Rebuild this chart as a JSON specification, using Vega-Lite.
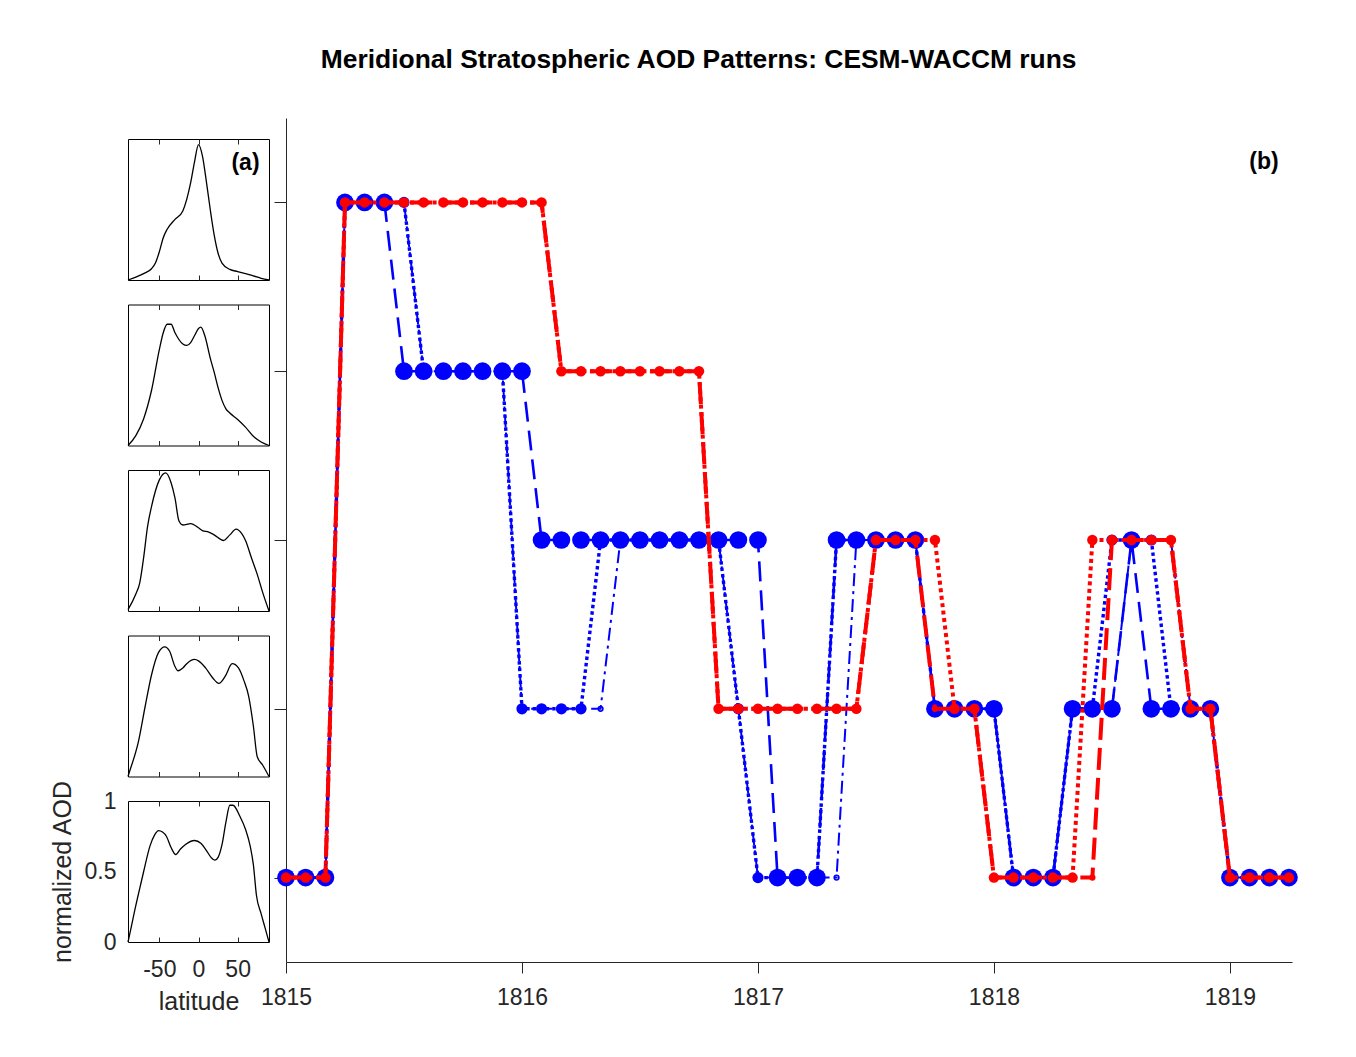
{
  "$schema": "https://vega.github.io/schema/vega-lite/v6.json",
  "background": "white",
  "padding": {"left": 49, "top": 46, "right": 10, "bottom": 10},
  "title": {"text": "Meridional Stratospheric AOD Patterns: CESM-WACCM runs", "font": "Liberation Sans", "fontSize": 26.4, "fontWeight": "bold", "color": "black", "anchor": "middle", "dx": 25, "offset": 45},
  "config": {
    "view": {"stroke": null},
    "font": "Liberation Sans",
    "axis": {"labelFont": "Liberation Sans", "labelFontSize": 23, "labelColor": "#262626", "titleFont": "Liberation Sans", "titleFontSize": 25, "titleFontWeight": "normal", "titleColor": "#262626", "domainColor": "#262626", "tickColor": "#262626", "grid": false, "domainWidth": 1, "tickWidth": 1}
  },
  "datasets": {
    "main": [
      {"t": 1815.000, "B1": 1, "B2": 1, "B3": 1, "R2": 1, "R3": 1},
      {"t": 1815.083, "B1": 1, "B2": 1, "B3": 1, "R2": 1, "R3": 1},
      {"t": 1815.167, "B1": 1, "B2": 1, "B3": 1, "R2": 1, "R3": 1},
      {"t": 1815.250, "B1": 5, "B2": 5, "B3": 5, "R2": 5, "R3": 5},
      {"t": 1815.333, "B1": 5, "B2": 5, "B3": 5, "R2": 5, "R3": 5},
      {"t": 1815.417, "B1": 5, "B2": 5, "B3": 5, "R2": 5, "R3": 5},
      {"t": 1815.500, "B1": 4, "B2": 5, "B3": 5, "R2": 5, "R3": 5},
      {"t": 1815.583, "B1": 4, "B2": 4, "B3": 4, "R2": 5, "R3": 5},
      {"t": 1815.667, "B1": 4, "B2": 4, "B3": 4, "R2": 5, "R3": 5},
      {"t": 1815.750, "B1": 4, "B2": 4, "B3": 4, "R2": 5, "R3": 5},
      {"t": 1815.833, "B1": 4, "B2": 4, "B3": 4, "R2": 5, "R3": 5},
      {"t": 1815.917, "B1": 4, "B2": 4, "B3": 4, "R2": 5, "R3": 5},
      {"t": 1816.000, "B1": 4, "B2": 2, "B3": 2, "R2": 5, "R3": 5},
      {"t": 1816.083, "B1": 3, "B2": 2, "B3": 2, "R2": 5, "R3": 5},
      {"t": 1816.167, "B1": 3, "B2": 2, "B3": 2, "R2": 4, "R3": 4},
      {"t": 1816.250, "B1": 3, "B2": 2, "B3": 2, "R2": 4, "R3": 4},
      {"t": 1816.333, "B1": 3, "B2": 3, "B3": 2, "R2": 4, "R3": 4},
      {"t": 1816.417, "B1": 3, "B2": 3, "B3": 3, "R2": 4, "R3": 4},
      {"t": 1816.500, "B1": 3, "B2": 3, "B3": 3, "R2": 4, "R3": 4},
      {"t": 1816.583, "B1": 3, "B2": 3, "B3": 3, "R2": 4, "R3": 4},
      {"t": 1816.667, "B1": 3, "B2": 3, "B3": 3, "R2": 4, "R3": 4},
      {"t": 1816.750, "B1": 3, "B2": 3, "B3": 3, "R2": 4, "R3": 4},
      {"t": 1816.833, "B1": 3, "B2": 3, "B3": 3, "R2": 2, "R3": 2},
      {"t": 1816.917, "B1": 3, "B2": 2, "B3": 2, "R2": 2, "R3": 2},
      {"t": 1817.000, "B1": 3, "B2": 1, "B3": 1, "R2": 2, "R3": 2},
      {"t": 1817.083, "B1": 1, "B2": 1, "B3": 1, "R2": 2, "R3": 2},
      {"t": 1817.167, "B1": 1, "B2": 1, "B3": 1, "R2": 2, "R3": 2},
      {"t": 1817.250, "B1": 1, "B2": 1, "B3": 1, "R2": 2, "R3": 2},
      {"t": 1817.333, "B1": 3, "B2": 3, "B3": 1, "R2": 2, "R3": 2},
      {"t": 1817.417, "B1": 3, "B2": 3, "B3": 3, "R2": 2, "R3": 2},
      {"t": 1817.500, "B1": 3, "B2": 3, "B3": 3, "R2": 3, "R3": 3},
      {"t": 1817.583, "B1": 3, "B2": 3, "B3": 3, "R2": 3, "R3": 3},
      {"t": 1817.667, "B1": 3, "B2": 3, "B3": 3, "R2": 3, "R3": 3},
      {"t": 1817.750, "B1": 2, "B2": 2, "B3": 2, "R2": 3, "R3": 2},
      {"t": 1817.833, "B1": 2, "B2": 2, "B3": 2, "R2": 2, "R3": 2},
      {"t": 1817.917, "B1": 2, "B2": 2, "B3": 2, "R2": 2, "R3": 2},
      {"t": 1818.000, "B1": 2, "B2": 2, "B3": 2, "R2": 1, "R3": 1},
      {"t": 1818.083, "B1": 1, "B2": 1, "B3": 1, "R2": 1, "R3": 1},
      {"t": 1818.167, "B1": 1, "B2": 1, "B3": 1, "R2": 1, "R3": 1},
      {"t": 1818.250, "B1": 1, "B2": 1, "B3": 1, "R2": 1, "R3": 1},
      {"t": 1818.333, "B1": 2, "B2": 2, "B3": 2, "R2": 1, "R3": 1},
      {"t": 1818.417, "B1": 2, "B2": 2, "B3": 2, "R2": 3, "R3": 1},
      {"t": 1818.500, "B1": 2, "B2": 3, "B3": 2, "R2": 3, "R3": 3},
      {"t": 1818.583, "B1": 3, "B2": 3, "B3": 3, "R2": 3, "R3": 3},
      {"t": 1818.667, "B1": 2, "B2": 3, "B3": 3, "R2": 3, "R3": 3},
      {"t": 1818.750, "B1": 2, "B2": 2, "B3": 3, "R2": 3, "R3": 3},
      {"t": 1818.833, "B1": 2, "B2": 2, "B3": 2, "R2": 2, "R3": 2},
      {"t": 1818.917, "B1": 2, "B2": 2, "B3": 2, "R2": 2, "R3": 2},
      {"t": 1819.000, "B1": 1, "B2": 1, "B3": 1, "R2": 1, "R3": 1},
      {"t": 1819.083, "B1": 1, "B2": 1, "B3": 1, "R2": 1, "R3": 1},
      {"t": 1819.167, "B1": 1, "B2": 1, "B3": 1, "R2": 1, "R3": 1},
      {"t": 1819.250, "B1": 1, "B2": 1, "B3": 1, "R2": 1, "R3": 1}
    ],
    "dens": [
      {"p": 1, "lat": -90, "val": 0.0}, {"p": 1, "lat": -80, "val": 0.02}, {"p": 1, "lat": -70, "val": 0.045}, {"p": 1, "lat": -60, "val": 0.08}, {"p": 1, "lat": -55, "val": 0.12}, {"p": 1, "lat": -50, "val": 0.2}, {"p": 1, "lat": -45, "val": 0.3}, {"p": 1, "lat": -40, "val": 0.36}, {"p": 1, "lat": -30, "val": 0.43}, {"p": 1, "lat": -20, "val": 0.49}, {"p": 1, "lat": -10, "val": 0.69}, {"p": 1, "lat": -5, "val": 0.84}, {"p": 1, "lat": 0, "val": 0.96}, {"p": 1, "lat": 5, "val": 0.88}, {"p": 1, "lat": 10, "val": 0.7}, {"p": 1, "lat": 15, "val": 0.5}, {"p": 1, "lat": 20, "val": 0.32}, {"p": 1, "lat": 25, "val": 0.19}, {"p": 1, "lat": 30, "val": 0.12}, {"p": 1, "lat": 40, "val": 0.075}, {"p": 1, "lat": 50, "val": 0.06}, {"p": 1, "lat": 60, "val": 0.045}, {"p": 1, "lat": 70, "val": 0.03}, {"p": 1, "lat": 80, "val": 0.012}, {"p": 1, "lat": 90, "val": 0.0},
      {"p": 2, "lat": -90, "val": 0.0}, {"p": 2, "lat": -80, "val": 0.07}, {"p": 2, "lat": -70, "val": 0.19}, {"p": 2, "lat": -60, "val": 0.39}, {"p": 2, "lat": -50, "val": 0.68}, {"p": 2, "lat": -45, "val": 0.8}, {"p": 2, "lat": -40, "val": 0.86}, {"p": 2, "lat": -35, "val": 0.86}, {"p": 2, "lat": -30, "val": 0.8}, {"p": 2, "lat": -20, "val": 0.72}, {"p": 2, "lat": -15, "val": 0.71}, {"p": 2, "lat": -10, "val": 0.73}, {"p": 2, "lat": -5, "val": 0.78}, {"p": 2, "lat": 0, "val": 0.83}, {"p": 2, "lat": 3, "val": 0.84}, {"p": 2, "lat": 8, "val": 0.78}, {"p": 2, "lat": 15, "val": 0.62}, {"p": 2, "lat": 20, "val": 0.52}, {"p": 2, "lat": 25, "val": 0.41}, {"p": 2, "lat": 30, "val": 0.32}, {"p": 2, "lat": 35, "val": 0.26}, {"p": 2, "lat": 40, "val": 0.23}, {"p": 2, "lat": 50, "val": 0.185}, {"p": 2, "lat": 60, "val": 0.13}, {"p": 2, "lat": 70, "val": 0.065}, {"p": 2, "lat": 80, "val": 0.025}, {"p": 2, "lat": 90, "val": 0.0},
      {"p": 3, "lat": -90, "val": 0.01}, {"p": 3, "lat": -80, "val": 0.12}, {"p": 3, "lat": -75, "val": 0.2}, {"p": 3, "lat": -70, "val": 0.38}, {"p": 3, "lat": -65, "val": 0.6}, {"p": 3, "lat": -60, "val": 0.74}, {"p": 3, "lat": -50, "val": 0.93}, {"p": 3, "lat": -42, "val": 0.98}, {"p": 3, "lat": -35, "val": 0.91}, {"p": 3, "lat": -30, "val": 0.8}, {"p": 3, "lat": -25, "val": 0.64}, {"p": 3, "lat": -20, "val": 0.61}, {"p": 3, "lat": -10, "val": 0.62}, {"p": 3, "lat": 0, "val": 0.59}, {"p": 3, "lat": 5, "val": 0.57}, {"p": 3, "lat": 13, "val": 0.56}, {"p": 3, "lat": 20, "val": 0.54}, {"p": 3, "lat": 32, "val": 0.5}, {"p": 3, "lat": 40, "val": 0.54}, {"p": 3, "lat": 48, "val": 0.58}, {"p": 3, "lat": 55, "val": 0.55}, {"p": 3, "lat": 60, "val": 0.5}, {"p": 3, "lat": 68, "val": 0.37}, {"p": 3, "lat": 75, "val": 0.26}, {"p": 3, "lat": 82, "val": 0.13}, {"p": 3, "lat": 90, "val": 0.0},
      {"p": 4, "lat": -90, "val": 0.0}, {"p": 4, "lat": -88, "val": 0.035}, {"p": 4, "lat": -77, "val": 0.24}, {"p": 4, "lat": -68, "val": 0.5}, {"p": 4, "lat": -60, "val": 0.72}, {"p": 4, "lat": -51, "val": 0.88}, {"p": 4, "lat": -43, "val": 0.92}, {"p": 4, "lat": -37, "val": 0.89}, {"p": 4, "lat": -30, "val": 0.78}, {"p": 4, "lat": -26, "val": 0.75}, {"p": 4, "lat": -20, "val": 0.77}, {"p": 4, "lat": -15, "val": 0.8}, {"p": 4, "lat": -5, "val": 0.83}, {"p": 4, "lat": 0, "val": 0.82}, {"p": 4, "lat": 9, "val": 0.77}, {"p": 4, "lat": 18, "val": 0.7}, {"p": 4, "lat": 26, "val": 0.66}, {"p": 4, "lat": 34, "val": 0.71}, {"p": 4, "lat": 43, "val": 0.8}, {"p": 4, "lat": 51, "val": 0.77}, {"p": 4, "lat": 58, "val": 0.68}, {"p": 4, "lat": 64, "val": 0.57}, {"p": 4, "lat": 70, "val": 0.36}, {"p": 4, "lat": 75, "val": 0.14}, {"p": 4, "lat": 82, "val": 0.08}, {"p": 4, "lat": 90, "val": 0.0},
      {"p": 5, "lat": -90, "val": 0.0}, {"p": 5, "lat": -88, "val": 0.05}, {"p": 5, "lat": -80, "val": 0.26}, {"p": 5, "lat": -75, "val": 0.38}, {"p": 5, "lat": -70, "val": 0.5}, {"p": 5, "lat": -62, "val": 0.68}, {"p": 5, "lat": -56, "val": 0.76}, {"p": 5, "lat": -51, "val": 0.79}, {"p": 5, "lat": -46, "val": 0.78}, {"p": 5, "lat": -41, "val": 0.75}, {"p": 5, "lat": -35, "val": 0.67}, {"p": 5, "lat": -29, "val": 0.62}, {"p": 5, "lat": -23, "val": 0.66}, {"p": 5, "lat": -17, "val": 0.69}, {"p": 5, "lat": -5, "val": 0.72}, {"p": 5, "lat": 3, "val": 0.7}, {"p": 5, "lat": 10, "val": 0.65}, {"p": 5, "lat": 16, "val": 0.6}, {"p": 5, "lat": 21, "val": 0.58}, {"p": 5, "lat": 25, "val": 0.6}, {"p": 5, "lat": 30, "val": 0.69}, {"p": 5, "lat": 35, "val": 0.85}, {"p": 5, "lat": 40, "val": 0.97}, {"p": 5, "lat": 44, "val": 0.97}, {"p": 5, "lat": 53, "val": 0.89}, {"p": 5, "lat": 60, "val": 0.8}, {"p": 5, "lat": 66, "val": 0.68}, {"p": 5, "lat": 70, "val": 0.55}, {"p": 5, "lat": 74, "val": 0.33}, {"p": 5, "lat": 80, "val": 0.2}, {"p": 5, "lat": 85, "val": 0.1}, {"p": 5, "lat": 90, "val": 0.0}
    ]
  },
  "spacing": -13,
  "hconcat": [
    {
      "spacing": 19,
      "vconcat": [
        {"width": 141, "height": 1, "data": {"values": []}, "mark": "point"},
        {
          "spacing": 24.5,
          "bounds": "flush",
          "vconcat": [
            {
              "width": 141, "height": 141,
              "view": {"stroke": "black", "strokeWidth": 1},
              "layer": [
                {"data": {"name": "dens"}, "transform": [{"filter": "datum.p == 1"}], "mark": {"type": "line", "color": "black", "strokeWidth": 1.3, "interpolate": "monotone"},
                 "encoding": {"x": {"field": "lat", "type": "quantitative", "scale": {"domain": [-90, 90], "nice": false, "zero": false}, "axis": {"values": [-50, 0, 50], "labels": false, "tickSize": -5, "domain": false, "title": null}},
                              "y": {"field": "val", "type": "quantitative", "scale": {"domain": [0, 1], "nice": false}, "axis": null}}},
                {"data": {"name": "dens"}, "transform": [{"filter": "datum.p == 1"}], "mark": {"type": "line", "opacity": 0},
                 "encoding": {"x": {"field": "lat", "type": "quantitative", "axis": {"orient": "top", "values": [-50, 0, 50], "labels": false, "tickSize": -5, "domain": false, "title": null}},
                              "y": {"field": "val", "type": "quantitative", "axis": null}}},
                {"data": {"values": [{"lat": 60, "val": 0.83, "label": "(a)"}]}, "mark": {"type": "text", "font": "Liberation Sans", "fontSize": 23, "fontWeight": "bold", "color": "black", "align": "center", "baseline": "middle"},
                 "encoding": {"x": {"field": "lat", "type": "quantitative", "axis": null}, "y": {"field": "val", "type": "quantitative", "axis": null}, "text": {"field": "label"}}}
              ],
              "resolve": {"axis": {"x": "independent"}}
            },
            {
              "width": 141, "height": 141,
              "view": {"stroke": "black", "strokeWidth": 1},
              "data": {"name": "dens"},
              "transform": [{"filter": "datum.p == 2"}],
              "layer": [
                {"mark": {"type": "line", "color": "black", "strokeWidth": 1.3, "interpolate": "monotone"},
                 "encoding": {"x": {"field": "lat", "type": "quantitative", "scale": {"domain": [-90, 90], "nice": false, "zero": false}, "axis": {"values": [-50, 0, 50], "labels": false, "tickSize": -5, "domain": false, "title": null}},
                              "y": {"field": "val", "type": "quantitative", "scale": {"domain": [0, 1], "nice": false}, "axis": null}}},
                {"mark": {"type": "line", "opacity": 0},
                 "encoding": {"x": {"field": "lat", "type": "quantitative", "axis": {"orient": "top", "values": [-50, 0, 50], "labels": false, "tickSize": -5, "domain": false, "title": null}},
                              "y": {"field": "val", "type": "quantitative"}}}
              ],
              "resolve": {"axis": {"x": "independent"}}
            },
            {
              "width": 141, "height": 141,
              "view": {"stroke": "black", "strokeWidth": 1},
              "data": {"name": "dens"},
              "transform": [{"filter": "datum.p == 3"}],
              "layer": [
                {"mark": {"type": "line", "color": "black", "strokeWidth": 1.3, "interpolate": "monotone"},
                 "encoding": {"x": {"field": "lat", "type": "quantitative", "scale": {"domain": [-90, 90], "nice": false, "zero": false}, "axis": {"values": [-50, 0, 50], "labels": false, "tickSize": -5, "domain": false, "title": null}},
                              "y": {"field": "val", "type": "quantitative", "scale": {"domain": [0, 1], "nice": false}, "axis": null}}},
                {"mark": {"type": "line", "opacity": 0},
                 "encoding": {"x": {"field": "lat", "type": "quantitative", "axis": {"orient": "top", "values": [-50, 0, 50], "labels": false, "tickSize": -5, "domain": false, "title": null}},
                              "y": {"field": "val", "type": "quantitative"}}}
              ],
              "resolve": {"axis": {"x": "independent"}}
            },
            {
              "width": 141, "height": 141,
              "view": {"stroke": "black", "strokeWidth": 1},
              "data": {"name": "dens"},
              "transform": [{"filter": "datum.p == 4"}],
              "layer": [
                {"mark": {"type": "line", "color": "black", "strokeWidth": 1.3, "interpolate": "monotone"},
                 "encoding": {"x": {"field": "lat", "type": "quantitative", "scale": {"domain": [-90, 90], "nice": false, "zero": false}, "axis": {"values": [-50, 0, 50], "labels": false, "tickSize": -5, "domain": false, "title": null}},
                              "y": {"field": "val", "type": "quantitative", "scale": {"domain": [0, 1], "nice": false}, "axis": null}}},
                {"mark": {"type": "line", "opacity": 0},
                 "encoding": {"x": {"field": "lat", "type": "quantitative", "axis": {"orient": "top", "values": [-50, 0, 50], "labels": false, "tickSize": -5, "domain": false, "title": null}},
                              "y": {"field": "val", "type": "quantitative"}}}
              ],
              "resolve": {"axis": {"x": "independent"}}
            },
            {
              "width": 141, "height": 141,
              "view": {"stroke": "black", "strokeWidth": 1},
              "data": {"name": "dens"},
              "transform": [{"filter": "datum.p == 5"}],
              "layer": [
                {"mark": {"type": "line", "color": "black", "strokeWidth": 1.3, "interpolate": "monotone"},
                 "encoding": {"x": {"field": "lat", "type": "quantitative", "scale": {"domain": [-90, 90], "nice": false, "zero": false}, "axis": {"values": [-50, 0, 50], "labelExpr": "'' + datum.value", "tickSize": -5, "labelPadding": 21, "domain": false, "title": "latitude", "titlePadding": 8}},
                              "y": {"field": "val", "type": "quantitative", "scale": {"domain": [0, 1], "nice": false}, "axis": {"values": [0, 0.5, 1], "labelExpr": "'' + datum.value", "ticks": false, "tickSize": 0, "labelPadding": 12, "domain": false, "title": "normalized AOD", "titlePadding": 9}}}},
                {"mark": {"type": "line", "opacity": 0},
                 "encoding": {"x": {"field": "lat", "type": "quantitative", "axis": {"orient": "top", "values": [-50, 0, 50], "labels": false, "tickSize": -5, "domain": false, "title": null}},
                              "y": {"field": "val", "type": "quantitative"}}}
              ],
              "resolve": {"axis": {"x": "independent"}}
            }
          ]
        }
      ]
    },
    {
      "width": 1006, "height": 844,
      "data": {"name": "main"},
      "encoding": {
        "x": {"field": "t", "type": "quantitative", "scale": {"domain": [1815, 1819.263], "nice": false, "zero": false},
              "axis": {"values": [1815, 1816, 1817, 1818, 1819], "format": "d", "title": null, "tickSize": 11, "labelPadding": 13, "labelFlush": false}},
        "y": {"field": "v", "type": "quantitative", "scale": {"domain": [0.5, 5.5], "nice": false, "zero": false},
              "axis": {"values": [1, 2, 3, 4, 5], "labels": false, "title": null, "tickSize": 12}}
      },
      "layer": [
        {"transform": [{"fold": ["B1", "B2", "B3", "R2", "R3"], "as": ["s", "v"]}, {"filter": {"field": "s", "equal": "B1"}}],
         "mark": {"type": "line", "color": "#0000ff", "strokeWidth": 2.6, "strokeDash": [20, 9]}},
        {"transform": [{"fold": ["B1", "B2", "B3", "R2", "R3"], "as": ["s", "v"]}, {"filter": {"field": "s", "equal": "B1"}}],
         "mark": {"type": "point", "shape": "circle", "filled": true, "color": "#0000ff", "opacity": 1, "size": 314}},
        {"transform": [{"fold": ["B1", "B2", "B3", "R2", "R3"], "as": ["s", "v"]}, {"filter": {"field": "s", "equal": "B2"}}],
         "mark": {"type": "line", "color": "#0000ff", "strokeWidth": 3.4, "strokeDash": [3.5, 3]}},
        {"transform": [{"fold": ["B1", "B2", "B3", "R2", "R3"], "as": ["s", "v"]}, {"filter": {"field": "s", "equal": "B2"}}],
         "mark": {"type": "point", "shape": "circle", "filled": true, "color": "#0000ff", "opacity": 1, "size": 125}},
        {"transform": [{"fold": ["B1", "B2", "B3", "R2", "R3"], "as": ["s", "v"]}, {"filter": {"field": "s", "equal": "B3"}}],
         "mark": {"type": "line", "color": "#0000ff", "strokeWidth": 2, "strokeDash": [13, 5, 3, 5]}},
        {"transform": [{"fold": ["B1", "B2", "B3", "R2", "R3"], "as": ["s", "v"]}, {"filter": {"field": "s", "equal": "B3"}}],
         "mark": {"type": "point", "shape": "circle", "filled": false, "color": "#0000ff", "opacity": 1, "size": 22, "strokeWidth": 1.6}},
        {"transform": [{"fold": ["B1", "B2", "B3", "R2", "R3"], "as": ["s", "v"]}, {"filter": {"field": "s", "equal": "R2"}}],
         "mark": {"type": "line", "color": "#ff0000", "strokeWidth": 4, "strokeDash": [4, 3.5]}},
        {"transform": [{"fold": ["B1", "B2", "B3", "R2", "R3"], "as": ["s", "v"]}, {"filter": {"field": "s", "equal": "R2"}}],
         "mark": {"type": "point", "shape": "circle", "filled": true, "color": "#ff0000", "opacity": 1, "size": 110}},
        {"transform": [{"fold": ["B1", "B2", "B3", "R2", "R3"], "as": ["s", "v"]}, {"filter": {"field": "s", "equal": "R3"}}],
         "mark": {"type": "line", "color": "#ff0000", "strokeWidth": 4, "strokeDash": [22, 8]}},
        {"transform": [{"fold": ["B1", "B2", "B3", "R2", "R3"], "as": ["s", "v"]}, {"filter": {"field": "s", "equal": "R3"}}],
         "mark": {"type": "point", "shape": "circle", "filled": true, "color": "#ff0000", "opacity": 1, "size": 40}},
        {"data": {"values": [{"t": 1819.144, "v": 5.24, "label": "(b)"}]},
         "mark": {"type": "text", "font": "Liberation Sans", "fontSize": 23, "fontWeight": "bold", "color": "black", "align": "center", "baseline": "middle"},
         "encoding": {"text": {"field": "label"}}}
      ]
    }
  ]
}
